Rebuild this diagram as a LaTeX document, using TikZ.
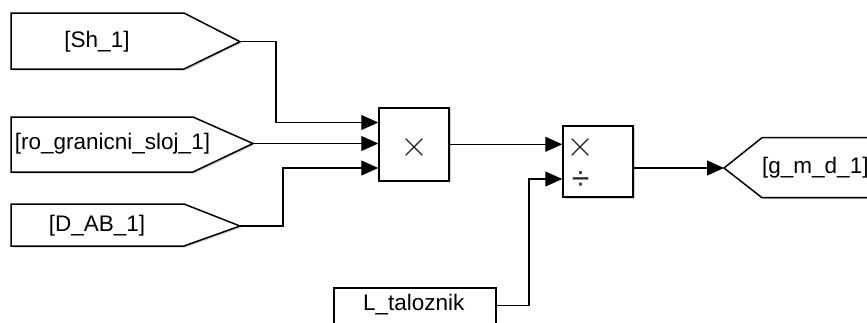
\documentclass[tikz,border=0pt]{standalone}
\usepackage{fontspec}
\setmainfont{Liberation Sans}
\usetikzlibrary{arrows.meta,shadows}
\begin{document}
\begin{tikzpicture}[x=1pt,y=-1pt,
  blk/.style={draw=black,line width=1.5pt,fill=white,
    drop shadow={shadow xshift=1.5pt,shadow yshift=-1.5pt,fill=black,opacity=0.18}},
  wire/.style={draw=black,line width=1.1pt},
  arr/.style={wire,-{Triangle[length=17pt,width=15pt]}},
  lbl/.style={font=\fontsize{22.5}{27}\selectfont,inner sep=0pt},
  sym/.style={font=\fontsize{24.88}{26}\selectfont,inner sep=0pt,text=black!85,scale=1.45}]
\useasboundingbox (0,0) rectangle (867,322);
% goto / from shapes
\draw[blk] (11,13) -- (184,13) -- (240,41.7) -- (184,69) -- (11,69) -- cycle;
\coordinate (sh) at (240,41.7);
\node[lbl] (shtxt) at (97,41.7) {[Sh\_1]};
\draw[blk] (11,117) -- (193,117) -- (253,143.5) -- (193,172) -- (11,172) -- cycle;
\coordinate (ro) at (253,143.5);
\node[lbl] (rotxt) at (112.5,144) {[ro\_granicni\_sloj\_1]};
\draw[blk] (11,204) -- (184,204) -- (240,226) -- (184,246) -- (11,246) -- cycle;
\coordinate (dab) at (240,226);
\node[lbl] (dabtxt) at (97,225.7) {[D\_AB\_1]};
\draw[blk] (724,168) -- (762,137.7) -- (900,137.7) -- (900,197.7) -- (762,197.7) -- cycle;
\coordinate (gmd) at (724,168);
\node[lbl,anchor=west] (gmdtxt) at (762,168) {[g\_m\_d\_1]};
% product blocks
\node[blk,minimum width=70pt,minimum height=73pt,inner sep=0pt] (p1) at (414,144.3) {};
\node[sym] (p1x) at (415,147) {$\times$};
\node[blk,minimum width=70pt,minimum height=71pt,inner sep=0pt] (p2) at (598,161.7) {};
\node[sym] (p2x) at (580.7,147) {$\times$};
\node[font=\fontsize{32}{32}\selectfont,inner sep=0pt,text=black!85] (p2d) at (580.7,181) {÷};
% constant block
\node[blk,minimum width=162pt,minimum height=45pt,inner sep=0pt,anchor=north west] (lt) at (333,287) {};
\node[lbl] (lttxt) at (413.7,305) {L\_taloznik};
% ports
\coordinate (p1a) at (p1.west |- 0,122.5);
\coordinate (p1b) at (p1.west |- 0,143.5);
\coordinate (p1c) at (p1.west |- 0,168);
\coordinate (p2a) at (p2.west |- 0,144.3);
\coordinate (p2b) at (p2.west |- 0,179);
\coordinate (p2o) at (p2.east |- 0,168);
\coordinate (lto) at (lt.east |- 0,305.5);
% wires
\draw[arr] (sh) -- (276,41.7) |- (p1a);
\draw[arr] (ro) -- (p1b);
\draw[arr] (dab) -- (283,226) |- (p1c);
\draw[arr] (p1.east |- p2a) -- (p2a);
\draw[arr] (lto) -- (529,305.5) |- (p2b);
\draw[arr] (p2o) -- (gmd);
\end{tikzpicture}
\end{document}
